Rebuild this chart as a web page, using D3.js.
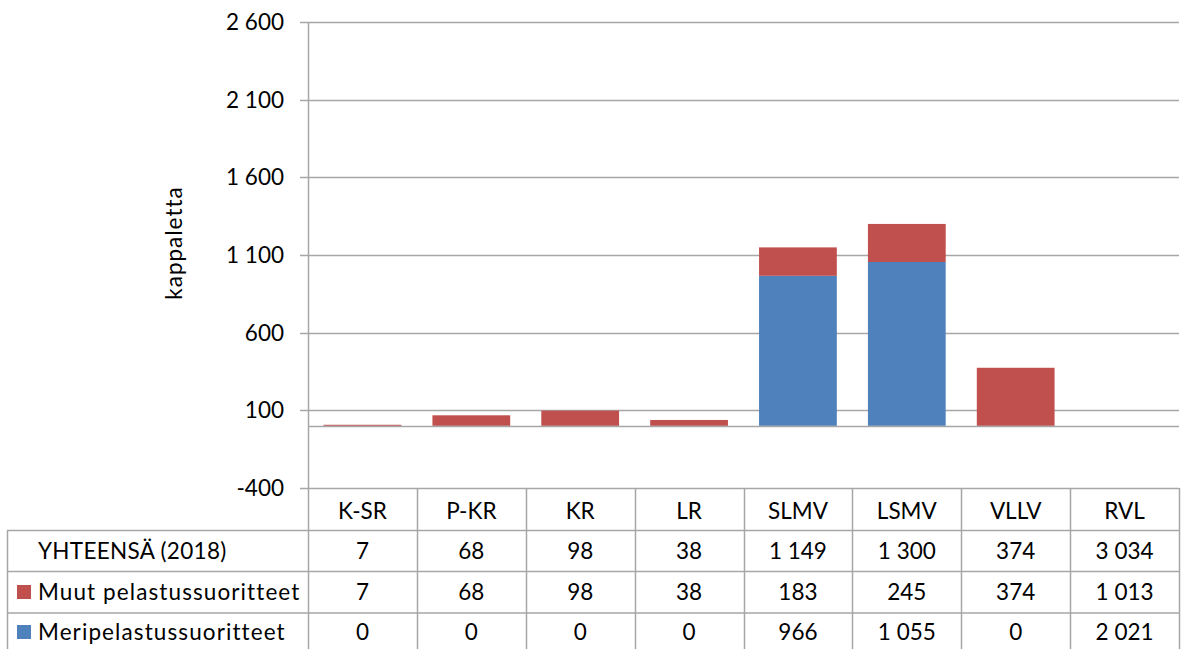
<!DOCTYPE html>
<html>
<head>
<meta charset="utf-8">
<script src="https://d3js.org/d3.v7.min.js"></script>
<style>
body {margin:0; background:#fff;}
svg text {font-family: Lato, "Open Sans", sans-serif; fill:#000;}
</style>
</head>
<body>
<svg width="1182" height="649"></svg>
<script>
// data
var categories = ["K-SR", "P-KR", "KR", "LR", "SLMV", "LSMV", "VLLV", "RVL"];
var totals = [7, 68, 98, 38, 1149, 1300, 374, 3034];
var muut = [7, 68, 98, 38, 183, 245, 374, 1013];
var meri = [0, 0, 0, 0, 966, 1055, 0, 2021];
var yTicks = [-400, 100, 600, 1100, 1600, 2100, 2600];
// RVL is only in the table, no column drawn for it
var plotted = ["K-SR", "P-KR", "KR", "LR", "SLMV", "LSMV", "VLLV"];
var seriesNames = ["Meripelastussuoritteet", "Muut pelastussuoritteet"];
var seriesColors = ["#4F81BD", "#C0504D"];

var fi = d3.formatLocale({decimal: ",", thousands: "\u00a0", grouping: [3], currency: ["", " €"], minus: "-"});
var fmt = fi.format(",d");

var svg = d3.select("svg");
var plotLeft = 308, plotRight = 1179, plotTop = 22, plotBottom = 488;
var gridColor = "#a6a6a6";
var fontSize = "22.5px";

var x = d3.scaleBand().domain(categories).range([plotLeft, plotRight]).paddingInner(0.2857).paddingOuter(0.1429);
var xCol = d3.scaleBand().domain(categories).range([plotLeft, plotRight]).padding(0);
var y = d3.scaleLinear().domain([-400, 2600]).range([plotBottom, plotTop]);

// gridlines
svg.append("g").selectAll("line").data(yTicks).enter().append("line")
  .attr("x1", plotLeft - 8).attr("x2", plotRight)
  .attr("y1", function(d) { return Math.round(y(d)) + 0.5; })
  .attr("y2", function(d) { return Math.round(y(d)) + 0.5; })
  .attr("stroke", gridColor).attr("stroke-width", 1.5);

// y tick labels
svg.append("g").selectAll("text").data(yTicks).enter().append("text")
  .attr("x", 284).attr("y", function(d) { return y(d); })
  .attr("dy", "0.36em").attr("text-anchor", "end")
  .style("font-size", fontSize)
  .text(function(d) { return fmt(d); });

svg.append("text")
  .attr("transform", "translate(182,243) rotate(-90)")
  .attr("text-anchor", "middle")
  .style("font-size", fontSize)
  .style("letter-spacing", "1px")
  .text("kappaletta");

// stacked columns
var rows = plotted.map(function(c) {
  var i = categories.indexOf(c);
  return {cat: c, meri: meri[i], muut: muut[i]};
});
var stack = d3.stack().keys(["meri", "muut"])(rows);
svg.append("g").selectAll("g").data(stack).enter().append("g")
  .attr("fill", function(d, i) { return seriesColors[i]; })
  .selectAll("rect").data(function(d) { return d; }).enter().append("rect")
  .attr("x", function(d) { return x(d.data.cat); })
  .attr("width", x.bandwidth())
  .attr("y", function(d) { return y(d[1]); })
  .attr("height", function(d) { return y(d[0]) - y(d[1]); });

// zero line
svg.append("line")
  .attr("x1", plotLeft).attr("x2", plotRight)
  .attr("y1", Math.round(y(0)) + 0.5).attr("y2", Math.round(y(0)) + 0.5)
  .attr("stroke", gridColor).attr("stroke-width", 1.5);

// vertical axis line
svg.append("line")
  .attr("x1", plotLeft + 0.5).attr("x2", plotLeft + 0.5)
  .attr("y1", plotTop).attr("y2", 649)
  .attr("stroke", gridColor).attr("stroke-width", 1.5);

// data table
var rowLines = [530.5, 571.5, 613];
var tableRows = [
  {label: "YHTEENSÄ (2018)", values: totals, color: null, spacing: "0.3px"},
  {label: seriesNames[1], values: muut, color: seriesColors[1], spacing: "1.1px"},
  {label: seriesNames[0], values: meri, color: seriesColors[0], spacing: "1.1px"}
];
var table = svg.append("g");

table.selectAll(".hl").data(rowLines).enter().append("line")
  .attr("x1", 7).attr("x2", plotRight)
  .attr("y1", function(d) { return d; }).attr("y2", function(d) { return d; })
  .attr("stroke", gridColor).attr("stroke-width", 1.5);

table.append("line")
  .attr("x1", 7.5).attr("x2", 7.5).attr("y1", rowLines[0]).attr("y2", 649)
  .attr("stroke", gridColor).attr("stroke-width", 1.5);

table.selectAll(".vl").data(categories).enter().append("line")
  .attr("x1", function(d) { return Math.round(xCol(d) + xCol.bandwidth()) + 0.5; })
  .attr("x2", function(d) { return Math.round(xCol(d) + xCol.bandwidth()) + 0.5; })
  .attr("y1", plotBottom).attr("y2", 649)
  .attr("stroke", gridColor).attr("stroke-width", 1.5);

table.selectAll(".cat").data(categories).enter().append("text")
  .attr("x", function(d) { return xCol(d) + xCol.bandwidth() / 2; })
  .attr("y", 511).attr("dy", "0.36em").attr("text-anchor", "middle")
  .style("font-size", fontSize)
  .text(function(d) { return d; });

var rowY = [551, 592, 632];
tableRows.forEach(function(r, ri) {
  var g = table.append("g");
  g.append("text")
    .attr("x", 38).attr("y", rowY[ri]).attr("dy", "0.36em")
    .style("font-size", fontSize)
    .style("letter-spacing", r.spacing)
    .text(r.label);
  if (r.color) {
    g.append("rect").attr("x", 17).attr("y", rowY[ri] - 7)
      .attr("width", 14).attr("height", 14).attr("fill", r.color);
  }
  g.selectAll(".v").data(r.values).enter().append("text")
    .attr("x", function(d, i) { return xCol(categories[i]) + xCol.bandwidth() / 2; })
    .attr("y", rowY[ri]).attr("dy", "0.36em").attr("text-anchor", "middle")
    .style("font-size", fontSize)
    .text(function(d) { return fmt(d); });
});
</script>
</body>
</html>
